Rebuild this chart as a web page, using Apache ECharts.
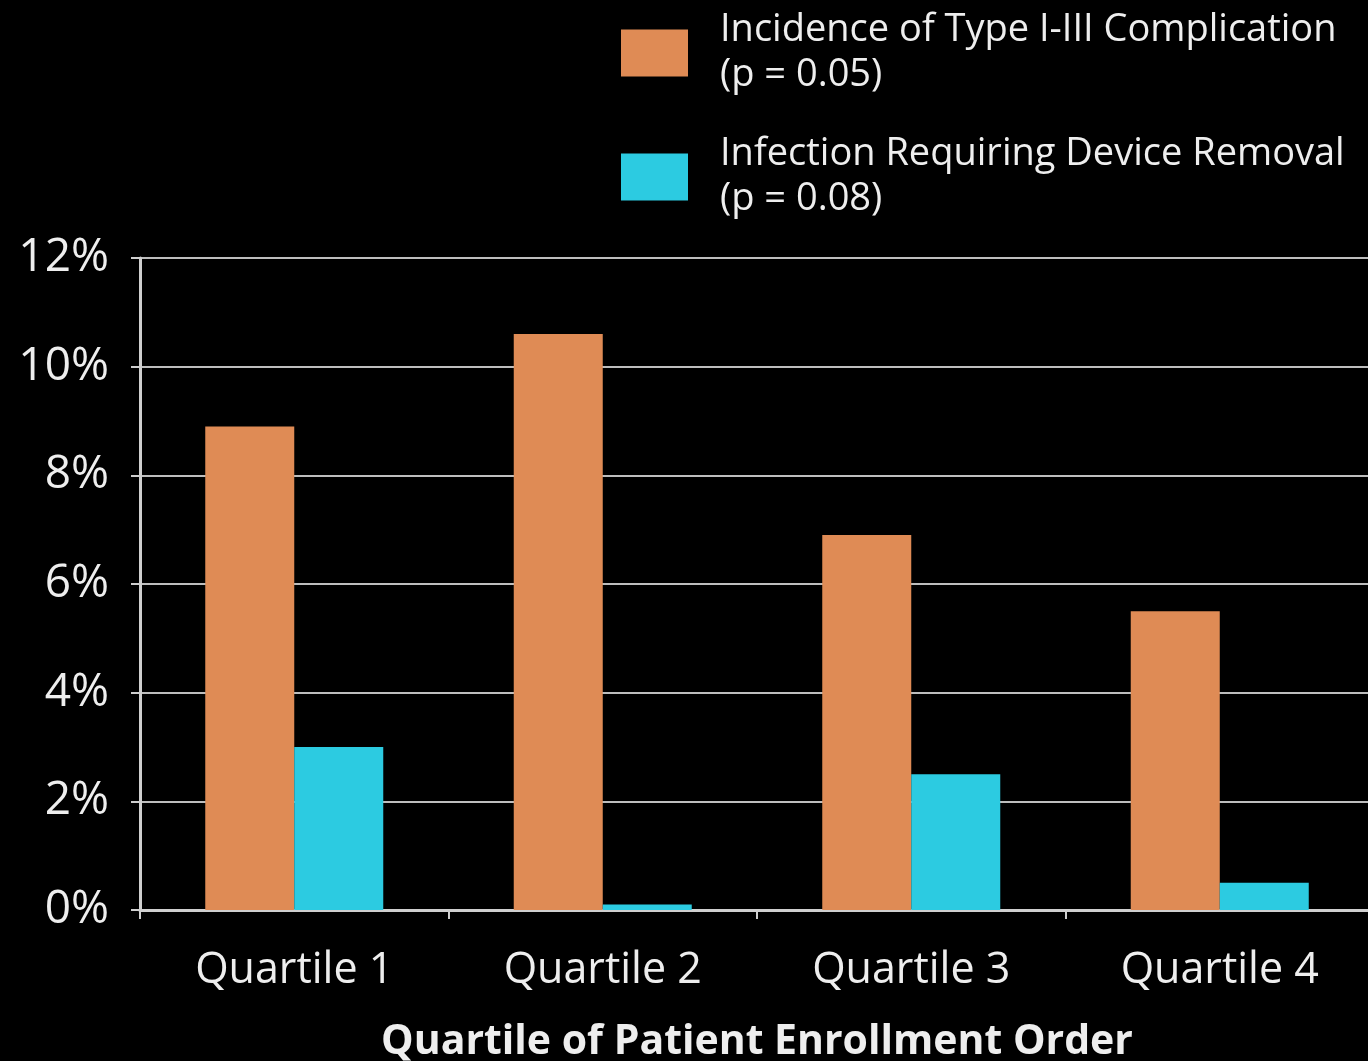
<!DOCTYPE html>
<html>
<head>
<meta charset="utf-8">
<script src="https://cdn.jsdelivr.net/npm/echarts@6/dist/echarts.min.js"></script>
<style>
  html, body { margin: 0; padding: 0; background: #000; }
  #chart { width: 1368px; height: 1061px; }
</style>
</head>
<body>
<div id="chart"></div>
<script>
// Complication rates by quartile of enrollment order
const quartiles = ['Quartile 1', 'Quartile 2', 'Quartile 3', 'Quartile 4'];
const complicationRate = [8.9, 10.6, 6.9, 5.5];
const infectionRemovalRate = [3.0, 0.1, 2.5, 0.5];
const seriesNames = [
  'Incidence of Type I-III Complication\n(p = 0.05)',
  'Infection Requiring Device Removal\n(p = 0.08)'
];

const FONT = '"Open Sans", "Noto Sans", sans-serif';
const chart = echarts.init(document.getElementById('chart'));

chart.setOption({
  backgroundColor: '#000',
  animation: false,
  textStyle: { fontFamily: FONT, color: '#eee' },
  legend: {
    orient: 'vertical',
    left: 616,
    top: 3,
    itemWidth: 67,
    itemHeight: 47,
    itemGap: 34,
    icon: 'rect',
    textStyle: {
      color: '#eee',
      fontSize: 38,
      lineHeight: 45,
      fontFamily: FONT,
      padding: [0, 0, 0, 27]
    },
    data: seriesNames
  },
  grid: {
    left: 140,
    width: 1234,
    top: 258,
    bottom: 151,
    containLabel: false,
    outerBoundsMode: 'none'
  },
  xAxis: {
    type: 'category',
    data: quartiles,
    axisLine: { lineStyle: { color: '#cfcfcf', width: 3 } },
    axisTick: { show: true, length: 9, lineStyle: { color: '#cfcfcf', width: 2 } },
    axisLabel: { color: '#eee', fontSize: 43, margin: 39, fontFamily: FONT },
    name: 'Quartile of Patient Enrollment Order',
    nameLocation: 'middle',
    nameGap: 112,
    nameTextStyle: { color: '#eee', fontSize: 41, fontWeight: 'bold', fontFamily: FONT }
  },
  yAxis: {
    type: 'value',
    min: 0,
    max: 12,
    interval: 2,
    axisLine: { show: true, lineStyle: { color: '#cfcfcf', width: 3 } },
    axisTick: { show: true, length: 9, lineStyle: { color: '#cfcfcf', width: 2 } },
    axisLabel: { color: '#eee', fontSize: 46, margin: 31, formatter: '{value}%', fontFamily: FONT },
    splitLine: { show: true, lineStyle: { color: '#bdbdbd', width: 2 } }
  },
  series: [
    {
      name: seriesNames[0],
      type: 'bar',
      data: complicationRate,
      barWidth: 89,
      barGap: '0%',
      itemStyle: { color: '#df8b55' }
    },
    {
      name: seriesNames[1],
      type: 'bar',
      data: infectionRemovalRate,
      barWidth: 89,
      barGap: '0%',
      itemStyle: { color: '#2ccbe1' }
    }
  ]
});
</script>
</body>
</html>
